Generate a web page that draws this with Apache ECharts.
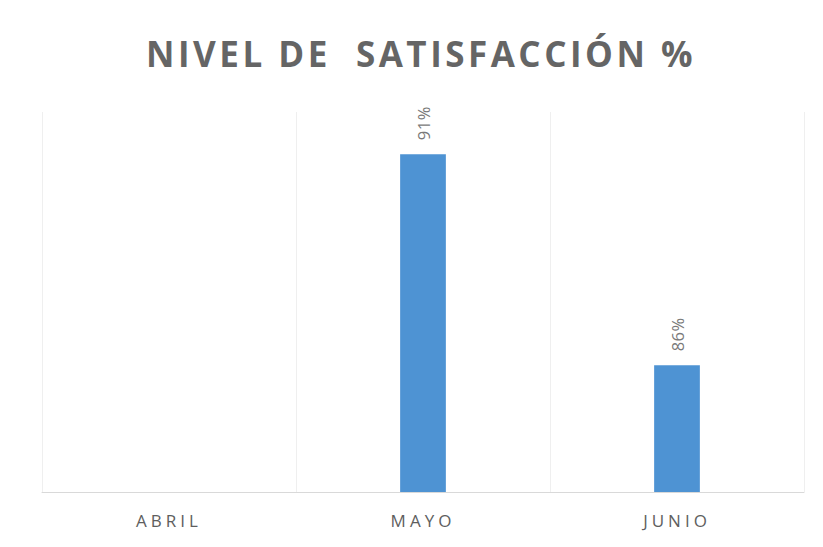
<!DOCTYPE html>
<html>
<head>
<meta charset="utf-8">
<script src="https://cdn.jsdelivr.net/npm/echarts@6/dist/echarts.min.js"></script>
<style>
  html, body { margin: 0; padding: 0; background: #fff; }
  #chart { width: 823px; height: 547px; }
  /* spaced capitals, as in the original */
  #chart text { letter-spacing: 4px; }
  #chart text[style*="35px"] { letter-spacing: 3.5px; }
  #chart text[style*="16.5px"] { letter-spacing: 0.5px; }
</style>
</head>
<body>
<div id="chart"></div>
<script>
const categories = ['ABRIL', 'MAYO', 'JUNIO'];
const satisfaction = [null, 91, 86];

const chart = echarts.init(document.getElementById('chart'), null, { renderer: 'svg' });

chart.setOption({
    animation: false,
    title: {
        text: 'NIVEL DE  SATISFACCIÓN %',
        left: 141,
        top: 31,
        textStyle: {
            fontFamily: 'Open Sans',
            fontSize: 35,
            fontWeight: 'bold',
            color: '#656565'
        }
    },
    grid: { left: 42, right: 19, top: 112, bottom: 55 },
    xAxis: {
        type: 'category',
        data: categories,
        axisLine: { lineStyle: { color: '#d9d9d9' } },
        axisTick: { show: false },
        splitLine: { show: true, lineStyle: { color: '#efefef' } },
        axisLabel: {
            margin: 20,
            fontFamily: 'Open Sans',
            fontSize: 17,
            color: '#5e5e5e'
        }
    },
    yAxis: {
        type: 'value',
        min: 83,
        max: 92,
        show: false
    },
    series: [{
        type: 'bar',
        data: satisfaction,
        barWidth: '18%',
        itemStyle: { color: '#4e93d3' },
        label: {
            show: true,
            position: 'top',
            rotate: 90,
            align: 'left',
            verticalAlign: 'middle',
            distance: 14,
            formatter: p => p.value + '%',
            fontFamily: 'Open Sans',
            fontSize: 16.5,
            color: '#7a7a7a'
        }
    }]
});
</script>
</body>
</html>
